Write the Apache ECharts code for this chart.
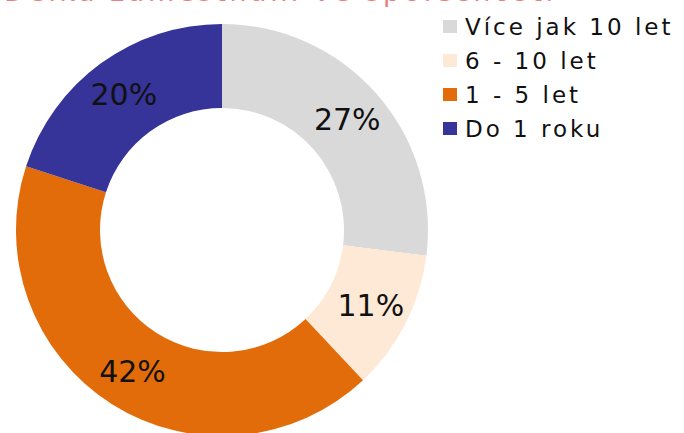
<!DOCTYPE html>
<html>
<head>
<meta charset="utf-8">
<script src="https://cdn.jsdelivr.net/npm/echarts@6/dist/echarts.min.js"></script>
<style>
  html, body { margin: 0; padding: 0; background: #fff; }
  #chart { width: 684px; height: 433px; }
</style>
</head>
<body>
<div id="chart"></div>
<script>
  var titleText = 'Délka zaměstnání ve společnosti';
  var categories = ['Více jak 10 let', '6 - 10 let', '1 - 5 let', 'Do 1 roku'];
  var values = [27, 11, 42, 20];
  var colors = ['#d9d9d9', '#fde9d5', '#e36c0a', '#363399'];

  // svg renderer so the legend / title text can get a bit of letter spacing
  var chart = echarts.init(document.getElementById('chart'), null, { renderer: 'svg' });
  var data = [];
  for (var i = 0; i < categories.length; i++) {
    data.push({ name: categories[i], value: values[i], itemStyle: { color: colors[i] } });
  }

  var option = {
    backgroundColor: '#ffffff',
    animation: false,
    title: {
      text: titleText,
      left: -1,
      top: -27,
      textStyle: {
        color: '#e88080',
        fontFamily: 'DejaVu Sans',
        fontWeight: 'normal',
        fontSize: 27
      }
    },
    legend: {
      orient: 'vertical',
      left: 438,
      top: 10,
      itemWidth: 14,
      itemHeight: 13,
      itemGap: 11,
      icon: 'rect',
      textStyle: {
        color: '#111',
        fontFamily: 'DejaVu Sans',
        fontSize: 23,
        lineHeight: 23,
        padding: [0, 0, 0, 3]
      },
      data: categories
    },
    series: [{
      type: 'pie',
      center: [222, 230],
      radius: [122, 206],
      startAngle: 90,
      clockwise: true,
      avoidLabelOverlap: false,
      label: {
        show: true,
        position: 'inside',
        formatter: '{c}%',
        color: '#111',
        fontFamily: 'DejaVu Sans',
        fontSize: 30
      },
      labelLine: { show: false },
      emphasis: { disabled: true },
      data: data
    }]
  };
  chart.setOption(option);

  // spread out legend and title letters like the original
  var texts = document.querySelectorAll('#chart svg text');
  texts.forEach(function (t) {
    var s = t.textContent;
    if (categories.indexOf(s) >= 0) t.setAttribute('letter-spacing', '3');
    else if (s === titleText) t.setAttribute('letter-spacing', '3.5');
  });
</script>
</body>
</html>
